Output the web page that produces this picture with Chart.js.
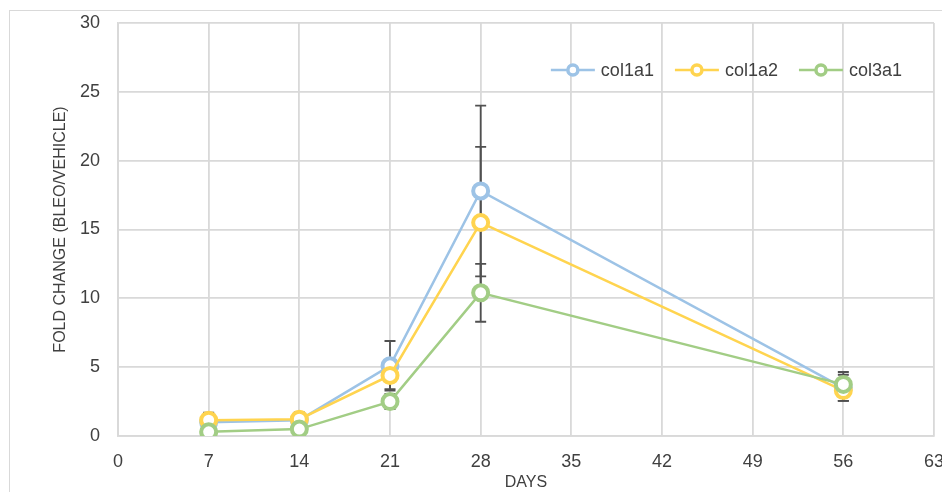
<!DOCTYPE html>
<html>
<head>
<meta charset="utf-8">
<script src="https://cdn.jsdelivr.net/npm/chart.js@4/dist/chart.umd.min.js"></script>
<style>
  html, body { margin: 0; padding: 0; background: #fff; overflow: hidden; }
  #frame { position: absolute; left: 9px; top: 10px; width: 1000px; height: 600px; border: 1px solid #d9d9d9; background: #fff; }
  #wrap { position: absolute; left: 0; top: 0; width: 942px; height: 492px; }
</style>
</head>
<body>
<div id="frame"></div>
<div id="wrap"><canvas id="chart"></canvas></div>
<script>
// values
var days = [7, 14, 21, 28, 56];
var col1a1 = [1.0, 1.15, 5.1, 17.8, 3.5];
var col1a2 = [1.15, 1.22, 4.4, 15.5, 3.3];
var col3a1 = [0.3, 0.5, 2.5, 10.4, 3.75];
// standard deviation (error bars)
var err1a1 = [0.15, 0.15, 1.8, 6.2, 0.95];
var err1a2 = [0.55, 0.5, 1.0, 5.5, 0.75];
var err3a1 = [0.1, 0.1, 0.55, 2.1, 0.9];
var xTicks = [0, 63, 7];   // min, max, step
var yTicks = [0, 30, 5];

var FONT = "'Liberation Sans', Arial, sans-serif";
var GRID = '#d9d9d9';
var TEXT = '#404040';

function pts(vals, errs) {
    return vals.map(function (v, i) { return {x: days[i], y: v, err: errs[i]}; });
}

function series(label, vals, errs, color, order) {
    return {
        label: label,
        data: pts(vals, errs),
        borderColor: color,
        backgroundColor: '#ffffff',
        borderWidth: 2.5,
        pointRadius: 7.5,
        pointBorderWidth: 4,
        pointBackgroundColor: '#ffffff',
        pointBorderColor: color,
        tension: 0,
        order: order
    };
}

//error bars, drawn under the lines and markers
var errorBars = {
    id: 'errorBars',
    beforeDatasetsDraw: function (chart) {
        var ctx = chart.ctx, xs = chart.scales.x, ys = chart.scales.y;
        ctx.save();
        ctx.strokeStyle = '#505050';
        ctx.lineWidth = 1.8;
        chart.data.datasets.forEach(function (ds) {
            ds.data.forEach(function (p) {
                var x = xs.getPixelForValue(p.x);
                var top = ys.getPixelForValue(p.y + p.err);
                var bot = ys.getPixelForValue(p.y - p.err);
                ctx.beginPath();
                ctx.moveTo(x, top); ctx.lineTo(x, bot);
                ctx.moveTo(x - 5.5, top); ctx.lineTo(x + 5.5, top);
                ctx.moveTo(x - 5.5, bot); ctx.lineTo(x + 5.5, bot);
                ctx.stroke();
            });
        });
        ctx.restore();
    }
};

//legend inside plot area, top right, excel style line+marker
var insideLegend = {
    id: 'insideLegend',
    afterDraw: function (chart) {
        var ctx = chart.ctx, area = chart.chartArea;
        ctx.save();
        ctx.font = '18px ' + FONT;
        ctx.textBaseline = 'middle';
        var y = 70, lineLen = 44, gap = 6, itemGap = 21;
        var sets = chart.data.datasets;
        var total = 0;
        sets.forEach(function (ds, i) {
            total += lineLen + gap + ctx.measureText(ds.label).width + (i < sets.length - 1 ? itemGap : 0);
        });
        var x = area.right - 32 - total;
        sets.forEach(function (ds) {
            ctx.strokeStyle = ds.borderColor;
            ctx.lineWidth = 2.5;
            ctx.beginPath();
            ctx.moveTo(x, y); ctx.lineTo(x + lineLen, y);
            ctx.stroke();
            ctx.beginPath();
            ctx.arc(x + lineLen / 2, y, 5, 0, Math.PI * 2);
            ctx.fillStyle = '#ffffff';
            ctx.fill();
            ctx.lineWidth = 3.5;
            ctx.stroke();
            ctx.fillStyle = TEXT;
            ctx.fillText(ds.label, x + lineLen + gap, y + 1);
            x += lineLen + gap + ctx.measureText(ds.label).width + itemGap;
        });
        ctx.restore();
    }
};

var chart = new Chart(document.getElementById('chart'), {
    type: 'line',
    data: {
        datasets: [
            series('col1a1', col1a1, err1a1, '#9dc3e6', 2),
            series('col1a2', col1a2, err1a2, '#ffd44f', 1),
            series('col3a1', col3a1, err3a1, '#a2cd85', 0)
        ]
    },
    options: {
        responsive: true,
        maintainAspectRatio: false,
        animation: false,
        layout: {autoPadding: false, padding: {left: 0, top: 23, right: 8, bottom: 0}},
        plugins: {legend: {display: false}, tooltip: {enabled: false}},
        scales: {
            x: {
                type: 'linear',
                min: xTicks[0], max: xTicks[1],
                ticks: {stepSize: xTicks[2], color: TEXT, font: {family: FONT, size: 18}, padding: 15},
                grid: {color: GRID, lineWidth: 1.8, drawTicks: false},
                border: {color: GRID, width: 1.8},
                title: {display: true, text: 'DAYS', color: TEXT, font: {family: FONT, size: 16}, padding: {top: 0, bottom: 0}},
                afterFit: function (s) { s.height = 56; s.paddingLeft = 0; s.paddingRight = 0; }
            },
            y: {
                min: yTicks[0], max: yTicks[1],
                ticks: {stepSize: yTicks[2], color: TEXT, font: {family: FONT, size: 18}, padding: 18},
                grid: {color: GRID, lineWidth: 1.8, drawTicks: false},
                border: {color: GRID, width: 1.8},
                title: {display: true, text: 'FOLD CHANGE (BLEO/VEHICLE)', color: TEXT, font: {family: FONT, size: 16}, padding: {top: 51, bottom: 0}},
                afterFit: function (s) { s.width = 118; s.paddingTop = 0; s.paddingBottom = 0; }
            }
        }
    },
    plugins: [errorBars, insideLegend]
});
</script>
</body>
</html>
